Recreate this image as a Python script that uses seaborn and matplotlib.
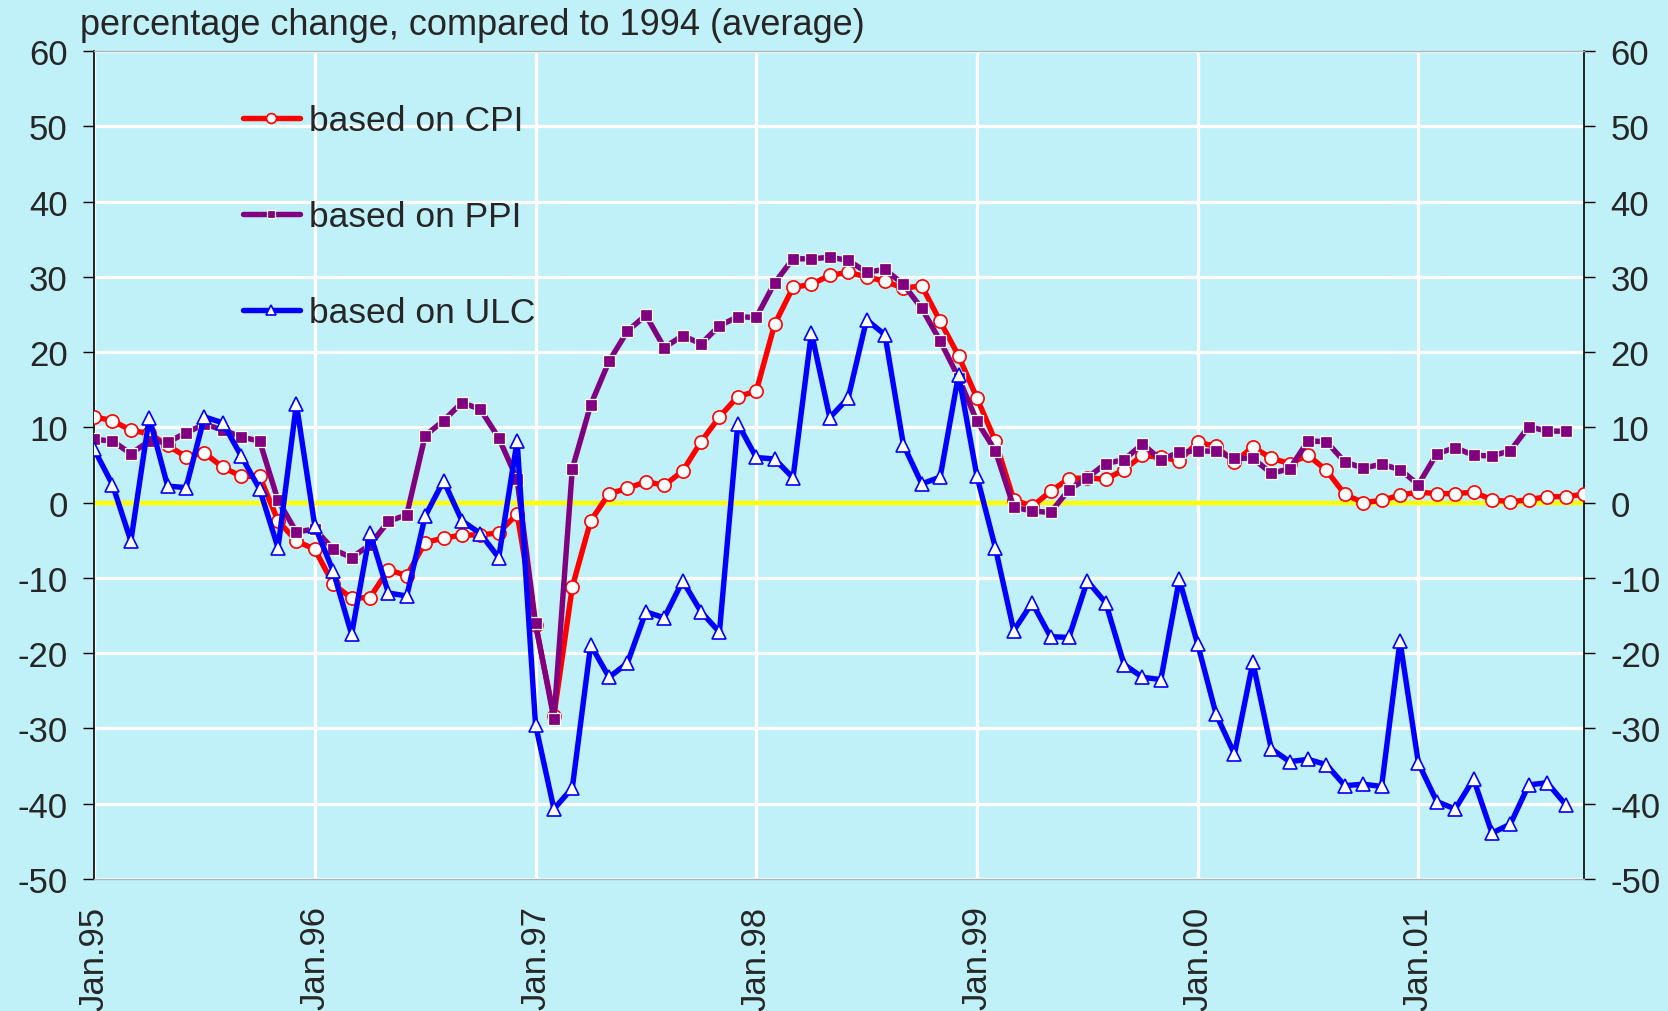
import numpy as np
import pandas as pd
import matplotlib
matplotlib.use("Agg")
import matplotlib.pyplot as plt
import seaborn as sns

# monthly values, Jan.95 .. Oct.01 (percentage change vs 1994 average)
cpi = [11.4, 10.9, 9.6, 9.2, 7.6, 6.1, 6.6, 4.7, 3.5, 3.5, -2.4, -5.1,
       -6.2, -10.8, -12.7, -12.6, -8.9, -9.7, -5.3, -4.7, -4.3, -4.3, -4.0, -1.5,
       -16.2, -28.3, -11.2, -2.4, 1.2, 1.9, 2.8, 2.3, 4.2, 8.1, 11.4, 14.1,
       14.8, 23.7, 28.6, 29.0, 30.2, 30.6, 30.0, 29.4, 28.5, 28.8, 24.1, 19.5,
       13.9, 8.2, 0.4, -0.5, 1.5, 3.2, 3.3, 3.1, 4.4, 6.3, 6.0, 5.6,
       8.0, 7.5, 5.4, 7.4, 5.9, 5.2, 6.3, 4.3, 1.1, 0.0, 0.3, 1.0,
       1.4, 1.2, 1.2, 1.4, 0.4, 0.1, 0.4, 0.8, 0.8, 1.1]

ppi = [8.4, 8.2, 6.5, 8.2, 8.0, 9.3, 10.4, 9.7, 8.7, 8.2, 0.3, -3.9,
       -3.5, -6.2, -7.3, -5.6, -2.5, -1.6, 8.9, 10.9, 13.3, 12.4, 8.6, 3.1,
       -16.0, -28.7, 4.5, 13.0, 18.8, 22.8, 24.9, 20.6, 22.2, 21.1, 23.5, 24.7,
       24.6, 29.2, 32.4, 32.4, 32.6, 32.2, 30.6, 31.0, 29.0, 25.8, 21.5, 16.6,
       10.8, 6.9, -0.6, -1.1, -1.3, 1.7, 3.3, 5.2, 5.7, 7.8, 5.7, 6.7,
       6.9, 6.8, 5.9, 5.9, 3.9, 4.5, 8.2, 8.1, 5.4, 4.6, 5.1, 4.4,
       2.4, 6.5, 7.3, 6.3, 6.2, 6.9, 10.1, 9.5, 9.5]

ulc = [7.1, 2.4, -5.1, 11.3, 2.2, 2.0, 11.4, 10.6, 6.2, 1.8, -6.0, 13.1,
       -3.1, -9.1, -17.5, -4.0, -12.0, -12.4, -1.8, 2.9, -2.4, -4.1, -7.3, 8.2,
       -29.5, -40.7, -37.9, -18.9, -23.2, -21.3, -14.5, -15.3, -10.4, -14.5, -17.2, 10.5,
       6.0, 5.8, 3.3, 22.6, 11.3, 13.9, 24.3, 22.3, 7.7, 2.5, 3.4, 17.0,
       3.5, -6.0, -17.0, -13.3, -17.8, -17.9, -10.4, -13.3, -21.5, -23.2, -23.5, -10.2,
       -18.8, -28.1, -33.4, -21.2, -32.7, -34.4, -34.1, -34.8, -37.6, -37.4, -37.7, -18.4,
       -34.6, -39.7, -40.7, -36.7, -43.9, -42.7, -37.5, -37.2, -40.1]

year_labels = ["Jan.95", "Jan.96", "Jan.97", "Jan.98", "Jan.99", "Jan.00", "Jan.01"]
y_ticks = [-50, -40, -30, -20, -10, 0, 10, 20, 30, 40, 50, 60]

bg = "#c1f1f8"
sns.set_style("white", {"axes.facecolor": bg, "figure.facecolor": bg})
plt.rcParams["font.family"] = ["Liberation Sans", "DejaVu Sans"]
plt.rcParams["axes.unicode_minus"] = False

fig, ax = plt.subplots(figsize=(16.68, 10.12), dpi=100)
fig.subplots_adjust(left=0.0564, right=0.9496, bottom=0.1304, top=0.9486)

df_cpi = pd.DataFrame({"month": np.arange(len(cpi)), "value": cpi})
df_ppi = pd.DataFrame({"month": np.arange(len(ppi)), "value": ppi})
df_ulc = pd.DataFrame({"month": np.arange(len(ulc)), "value": ulc})

ax.set_axisbelow(True)
ax.grid(True, color="white", lw=2.3)
ax.axhline(0, color="#ffff00", lw=3.2, zorder=1.5)

sns.lineplot(data=df_cpi, x="month", y="value", ax=ax, color="#ff0000", lw=3.9,
             marker="o", markersize=9.5, markerfacecolor="white", markeredgecolor="#ff0000",
             markeredgewidth=1.2, label="based on CPI", zorder=3)
sns.lineplot(data=df_ppi, x="month", y="value", ax=ax, color="#800080", lw=3.9,
             marker="s", markersize=8.5, markerfacecolor="#800080", markeredgecolor="white",
             markeredgewidth=0.9, label="based on PPI", zorder=4)
sns.lineplot(data=df_ulc, x="month", y="value", ax=ax, color="#0000ff", lw=3.9,
             marker="^", markersize=10, markerfacecolor="white", markeredgecolor="#0000ff",
             markeredgewidth=1.2, label="based on ULC", zorder=5)

ax.set_xlim(0, len(cpi) - 1)
ax.set_ylim(-50, 60)
ax.set_xticks(np.arange(0, len(cpi), 12))
ax.set_xticklabels(year_labels, rotation=90, ha="center", va="top")
ax.set_yticks(y_ticks)
ax.set_xlabel("")
ax.set_ylabel("")

ax.tick_params(axis="x", length=0, pad=19, labelsize=25)
ax.tick_params(axis="y", which="both", direction="out", length=8, width=1.0,
               left=True, right=True, labelleft=True, labelright=True,
               labelsize=25, pad=11, color="black")

for side in ["left", "right"]:
    ax.spines[side].set_color("black")
    ax.spines[side].set_linewidth(1.2)
for side in ["top", "bottom"]:
    ax.spines[side].set_color("#a8b8bc")
    ax.spines[side].set_linewidth(1.0)

leg = ax.legend(loc="upper left", bbox_to_anchor=(0.1, 0.936), frameon=False,
                fontsize=25.5, handlelength=1.6, handletextpad=0.25, labelspacing=1.78,
                borderpad=0, borderaxespad=0, markerscale=0.75)

fig.text(80 / 1668, 1 - 8 / 1012, "percentage change, compared to 1994 (average)",
         fontsize=26, ha="left", va="top")

fig.savefig("out.png", dpi=100, facecolor=bg)
